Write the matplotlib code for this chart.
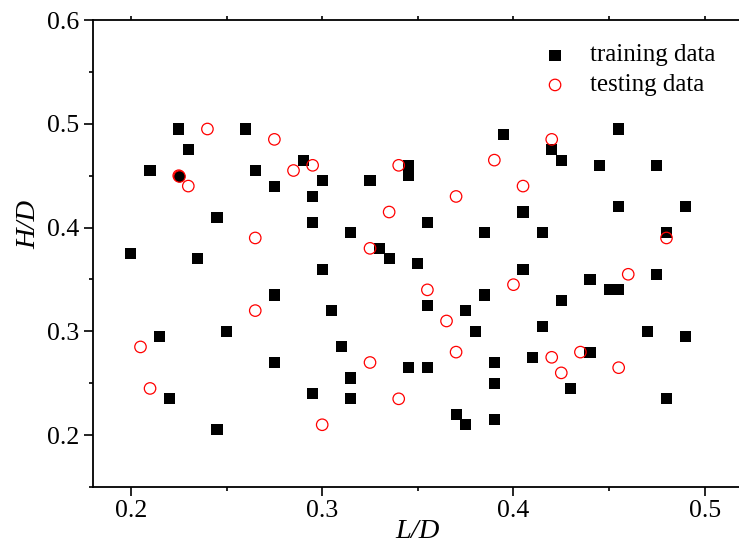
import matplotlib
matplotlib.use('Agg')
import matplotlib.pyplot as plt
from matplotlib.ticker import MultipleLocator
import numpy as np

# training samples (L/D, H/D)
train_L = [0.225, 0.23, 0.21, 0.225, 0.26, 0.265, 0.275, 0.29, 0.30, 0.295, 0.295, 0.245,
           0.20, 0.235, 0.30, 0.315, 0.325, 0.345, 0.345, 0.395, 0.42, 0.425, 0.455, 0.445,
           0.475, 0.455, 0.49, 0.405, 0.355, 0.385, 0.415, 0.48, 0.33, 0.335, 0.35, 0.405,
           0.44, 0.475, 0.275, 0.305, 0.25, 0.215, 0.31, 0.275, 0.315, 0.295, 0.315, 0.22,
           0.245, 0.45, 0.455, 0.385, 0.425, 0.355, 0.375, 0.38, 0.415, 0.47, 0.49, 0.44,
           0.41, 0.39, 0.345, 0.355, 0.39, 0.43, 0.48, 0.37, 0.375, 0.39]
train_H = [0.495, 0.475, 0.455, 0.45, 0.495, 0.455, 0.44, 0.465, 0.445, 0.43, 0.405, 0.41,
           0.375, 0.37, 0.36, 0.395, 0.445, 0.46, 0.45, 0.49, 0.475, 0.465, 0.495, 0.46,
           0.46, 0.42, 0.42, 0.415, 0.405, 0.395, 0.395, 0.395, 0.38, 0.37, 0.365, 0.36,
           0.35, 0.355, 0.335, 0.32, 0.30, 0.295, 0.285, 0.27, 0.255, 0.24, 0.235, 0.235,
           0.205, 0.34, 0.34, 0.335, 0.33, 0.325, 0.32, 0.30, 0.305, 0.30, 0.295, 0.28,
           0.275, 0.27, 0.265, 0.265, 0.25, 0.245, 0.235, 0.22, 0.21, 0.215]

# testing samples (L/D, H/D)
test_L = [0.24, 0.275, 0.285, 0.295, 0.23, 0.225, 0.265, 0.325, 0.34, 0.39, 0.42, 0.405,
          0.37, 0.335, 0.48, 0.46, 0.265, 0.205, 0.21, 0.30, 0.325, 0.355, 0.40, 0.365,
          0.37, 0.42, 0.435, 0.425, 0.455, 0.34]
test_H = [0.495, 0.485, 0.455, 0.46, 0.44, 0.45, 0.39, 0.38, 0.46, 0.465, 0.485, 0.44,
          0.43, 0.415, 0.39, 0.355, 0.32, 0.285, 0.245, 0.21, 0.27, 0.34, 0.345, 0.31,
          0.28, 0.275, 0.28, 0.26, 0.265, 0.235]

labels = ['training data', 'testing data']

plt.rcParams['font.family'] = ['Liberation Serif', 'DejaVu Serif']

fig = plt.figure(figsize=(7.39, 5.43), dpi=100)
ax = fig.add_axes([0.1254, 0.1031, 0.880, 0.860])

train = np.column_stack([train_L, train_H])
test = np.column_stack([test_L, test_H])
# points present in both sets show up as a filled circle
both = np.array([any(np.allclose(p, q) for q in test) for p in train])

sq_size = 64
ci_size = 68
ax.scatter(train[~both, 0], train[~both, 1], s=sq_size, marker='s', color='black',
           edgecolors='none', zorder=3)
ax.scatter(test[:, 0], test[:, 1], s=ci_size, marker='o', facecolors='none',
           edgecolors='red', linewidth=0.9, zorder=4)
ax.scatter(train[both, 0], train[both, 1], s=ci_size, marker='o', facecolors='black',
           edgecolors='red', linewidth=0.9, zorder=5)

ax.set_xlim(0.18, 0.52)
ax.set_ylim(0.15, 0.6)
ax.xaxis.set_major_locator(MultipleLocator(0.1))
ax.xaxis.set_minor_locator(MultipleLocator(0.05))
ax.yaxis.set_major_locator(MultipleLocator(0.1))
ax.yaxis.set_minor_locator(MultipleLocator(0.05))
ax.xaxis.set_major_formatter(plt.FormatStrFormatter('%.1f'))
ax.yaxis.set_major_formatter(plt.FormatStrFormatter('%.1f'))

for sp in ax.spines.values():
    sp.set_linewidth(1.3)
ax.spines['right'].set_visible(False)

ax.tick_params(which='major', direction='out', length=6.5, width=1.2, labelsize=18.5, pad=3)
ax.tick_params(which='minor', direction='out', length=3, width=1.2)
ax.tick_params(axis='x', which='both', top=True)
for t in ax.xaxis.get_major_ticks() + ax.xaxis.get_minor_ticks():
    t.tick2line.set_markersize(3)

# legend
ax.scatter(0.711, 0.925, s=sq_size, marker='s', color='black', edgecolors='none',
           transform=ax.transAxes, clip_on=False)
ax.scatter(0.711, 0.861, s=ci_size, marker='o', facecolors='none', edgecolors='red',
           linewidth=0.9, transform=ax.transAxes, clip_on=False)
ax.text(0.765, 0.925, labels[0], fontsize=18, ha='left', va='center',
        transform=ax.transAxes)
ax.text(0.765, 0.861, labels[1], fontsize=18, ha='left', va='center',
        transform=ax.transAxes)

ax.set_xlabel('L/D', fontsize=20.5, style='italic')
ax.set_ylabel('H/D', fontsize=20.5, style='italic')
ax.xaxis.set_label_coords(0.5, -0.109)
ax.xaxis.label.set_va('baseline')
ax.yaxis.set_label_coords(-0.0887, 0.563)
ax.yaxis.label.set_va('baseline')

fig.savefig('out.png', dpi=100)
